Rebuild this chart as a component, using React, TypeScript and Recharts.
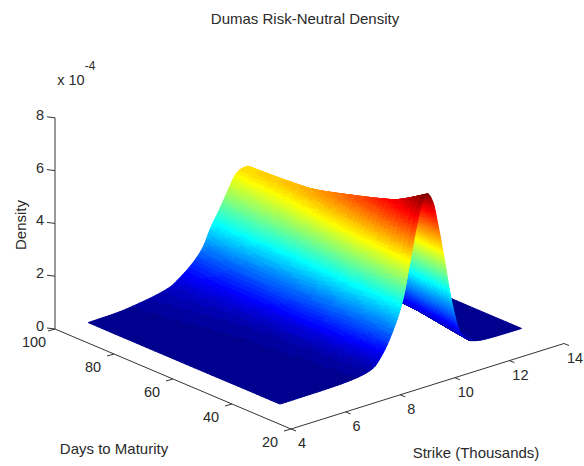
import { ScatterChart, Scatter, XAxis, YAxis } from 'recharts'

const W = 584
const H = 466

// surface values (density in 1e-4)
const strikes = [5, 6, 7, 7.5, 8, 8.4, 8.8, 9.2, 9.5, 9.8, 10, 10.2, 10.4, 10.6, 10.8, 11, 11.3, 11.6, 12, 12.5, 13, 13.85]
const days = [98, 86, 74, 62, 52, 44, 38, 33]
const density98 = [0.014, 0.04, 0.16, 0.25, 0.39, 0.66, 1.0, 1.5, 2.18, 2.72, 3.12, 3.52, 3.88, 4.02, 4.05, 3.93, 3.36, 2.69, 1.62, 0.65, 0.2, 0.02]
const density86 = [0.01, 0.03, 0.12, 0.2, 0.32, 0.58, 0.94, 1.44, 2.08, 2.75, 3.22, 3.62, 3.97, 4.16, 4.14, 3.89, 3.22, 2.42, 1.3, 0.38, 0.12, 0.015]
const density74 = [0.008, 0.022, 0.08, 0.14, 0.26, 0.52, 0.94, 1.42, 2.06, 2.85, 3.42, 3.84, 4.23, 4.38, 4.27, 3.88, 3.11, 2.1, 0.92, 0.24, 0.07, 0.01]
const density62 = [0.006, 0.018, 0.06, 0.11, 0.2, 0.43, 0.88, 1.45, 2.14, 3.09, 3.76, 4.27, 4.66, 4.75, 4.52, 3.95, 2.9, 1.71, 0.62, 0.14, 0.04, 0.008]
const density52 = [0.007, 0.015, 0.046, 0.09, 0.18, 0.42, 0.9, 1.5, 2.31, 3.42, 4.11, 4.73, 5.11, 5.09, 4.63, 3.96, 2.67, 1.44, 0.44, 0.12, 0.03, 0.006]
const density44 = [0.008, 0.012, 0.04, 0.08, 0.15, 0.36, 0.86, 1.54, 2.37, 3.63, 4.46, 5.12, 5.47, 5.39, 4.73, 3.96, 2.37, 1.1, 0.3, 0.07, 0.015, 0.004]
const density38 = [0.006, 0.012, 0.035, 0.07, 0.15, 0.29, 0.78, 1.58, 2.42, 3.87, 4.75, 5.48, 5.86, 5.63, 4.8, 3.84, 2.1, 0.88, 0.2, 0.05, 0.01, 0.003]
const density33 = [0.005, 0.012, 0.03, 0.056, 0.12, 0.25, 0.75, 1.59, 2.49, 4.04, 5.1, 5.88, 6.22, 5.85, 4.85, 3.67, 1.8, 0.6, 0.14, 0.03, 0.01, 0.003]
const densityRows = [density98, density86, density74, density62, density52, density44, density38, density33]

const strikeTicks = [4, 6, 8, 10, 12, 14]
const dayTicks = [100, 80, 60, 40, 20]
const densityTicks = [0, 2, 4, 6, 8]

const FONT = '"Liberation Sans", Arial, sans-serif'
const TEXT = '#2a2a2a'
const Z_MAX = 6.22

// the view the surface is seen from, as pixels per unit of each axis
const project = (k: number, t: number, z: number) => ({
  x: 291 + 27.3 * (k - 4) - 2.95 * (t - 20),
  y: 429 - 8.55 * (k - 4) - 1.25 * (t - 20) - 26.4 * z,
})

const jet = (z: number) => {
  const i = Math.min(64, Math.floor((z / Z_MAX) * 64) + 1)
  const v = i / 64
  const c = (d: number) => Math.round(255 * Math.max(0, Math.min(1, 1.5 - Math.abs(4 * v - d))))
  return `rgb(${c(3)},${c(2)},${c(1)})`
}

const hermite = (v0: number, v1: number, m0: number, m1: number, h: number, s: number) => {
  const s2 = s * s, s3 = s2 * s
  return (2 * s3 - 3 * s2 + 1) * v0 + (s3 - 2 * s2 + s) * h * m0 + (-2 * s3 + 3 * s2) * v1 + (s3 - s2) * h * m1
}

// monotone tangents along strike, so the shading stays smooth between table columns
const rowSlopes = densityRows.map(row => {
  const d = row.slice(1).map((v, i) => (v - row[i]) / (strikes[i + 1] - strikes[i]))
  return row.map((_, i) => {
    if (i === 0) return d[0]
    if (i === row.length - 1) return d[i - 1]
    return d[i - 1] * d[i] <= 0 ? 0 : (2 * d[i - 1] * d[i]) / (d[i - 1] + d[i])
  })
})

const rowAt = (r: number, c: number, a: number) =>
  hermite(densityRows[r][c], densityRows[r][c + 1], rowSlopes[r][c], rowSlopes[r][c + 1], strikes[c + 1] - strikes[c], a)

const surfaceAt = (r: number, c: number, a: number, b: number) => {
  const v = (q: number) => rowAt(Math.max(0, Math.min(days.length - 1, q)), c, a)
  const slope = (q: number) => {
    const lo = Math.max(0, q - 1), hi = Math.min(days.length - 1, q + 1)
    return (v(hi) - v(lo)) / (days[lo] - days[hi])
  }
  return Math.max(0, hermite(v(r), v(r + 1), slope(r), slope(r + 1), days[r] - days[r + 1], b))
}

type Facet = { pts: string; fill: string }

// one scatter point per table cell, back to front and far to near
function buildCells() {
  const cells: { x: number; y: number; facets: Facet[] }[] = []
  for (let r = 0; r < days.length - 1; r++) {
    for (let c = strikes.length - 2; c >= 0; c--) {
      const k0 = strikes[c], k1 = strikes[c + 1]
      const t0 = days[r], t1 = days[r + 1]
      const rise = Math.max(
        Math.abs(densityRows[r][c + 1] - densityRows[r][c]),
        Math.abs(densityRows[r + 1][c + 1] - densityRows[r + 1][c]),
      )
      const nk = Math.max(2, Math.round((k1 - k0) * 8), Math.ceil(rise * 17))
      const nt = Math.max(2, Math.round((t0 - t1) / 1.5))
      const at = (a: number, b: number) =>
        project(k0 + (k1 - k0) * a, t0 + (t1 - t0) * b, surfaceAt(r, c, a, b))
      const facets: Facet[] = []
      for (let j = 0; j < nt; j++) {
        for (let i = nk - 1; i >= 0; i--) {
          const a0 = i / nk, a1 = (i + 1) / nk
          const b0 = j / nt, b1 = (j + 1) / nt
          const pts = [at(a0, b0), at(a1, b0), at(a1, b1), at(a0, b1)]
            .map(p => `${p.x.toFixed(2)},${p.y.toFixed(2)}`)
            .join(' ')
          facets.push({ pts, fill: jet(surfaceAt(r, c, (a0 + a1) / 2, (b0 + b1) / 2)) })
        }
      }
      cells.push({ ...project(k0, t0, densityRows[r][c]), facets })
    }
  }
  return cells
}

const cellData = buildCells()

const zAxisLine = [project(4, 100, 0), project(4, 100, 8)]
const daysAxisLine = [project(4, 100, 0), project(4, 20, 0)]
const strikeAxisLine = [project(4, 20, 0), project(14, 20, 0)]

const tickData = [
  ...densityTicks.map(v => ({ ...project(4, 100, v), label: String(v), dx: -15, dy: -3, tx: -8, ty: -1 })),
  ...dayTicks.map(v => ({ ...project(4, v, 0), label: String(v), dx: -21, dy: 13, tx: -7, ty: 2 })),
  ...strikeTicks.map(v => ({ ...project(v, 20, 0), label: String(v), dx: 11, dy: 14, tx: 5, ty: 2 })),
]

const titles = [
  { x: 305, y: 18, label: 'Dumas Risk-Neutral Density', size: 15, rotate: 0 },
  { x: 71, y: 80, label: 'x 10', size: 14.5, rotate: 0 },
  { x: 90, y: 66, label: '-4', size: 12, rotate: 0 },
  { x: 20, y: 225, label: 'Density', size: 15, rotate: -90 },
  { x: 114, y: 448, label: 'Days to Maturity', size: 15, rotate: 0 },
  { x: 476, y: 452, label: 'Strike (Thousands)', size: 15, rotate: 0 },
]

const NoDot = () => <g />

const CellShape = (props: any) => {
  const { cx, cy, payload } = props
  const ox = cx - payload.x
  const oy = cy - payload.y
  return (
    <g transform={`translate(${ox},${oy})`}>
      {payload.facets.map((f: Facet, i: number) => (
        <polygon key={i} points={f.pts} fill={f.fill} stroke={f.fill} strokeWidth={1} strokeLinejoin="round" />
      ))}
    </g>
  )
}

const TickShape = (props: any) => {
  const { cx, cy, payload } = props
  return (
    <g>
      <line x1={cx} y1={cy} x2={cx + payload.tx} y2={cy + payload.ty} stroke="#333" strokeWidth={1} />
      <text x={cx + payload.dx} y={cy + payload.dy} textAnchor="middle" dominantBaseline="central"
        fontFamily={FONT} fontSize={14.5} fill={TEXT}>
        {payload.label}
      </text>
    </g>
  )
}

const TitleShape = (props: any) => {
  const { cx, cy, payload } = props
  return (
    <text x={cx} y={cy} textAnchor="middle" dominantBaseline="central" fontFamily={FONT}
      fontSize={payload.size} fill={TEXT}
      transform={payload.rotate ? `rotate(${payload.rotate} ${cx} ${cy})` : undefined}>
      {payload.label}
    </text>
  )
}

export default function App() {
  return (
    <div style={{ position: 'absolute', left: 0, top: 0, width: W, height: H }}>
      <ScatterChart width={W} height={H} margin={{ top: 0, right: 0, bottom: 0, left: 0 }}>
        <XAxis type="number" dataKey="x" domain={[0, W]} hide />
        <YAxis type="number" dataKey="y" domain={[0, H]} reversed hide />
        <Scatter data={zAxisLine} line={{ stroke: '#555', strokeWidth: 1.2 }} shape={NoDot} isAnimationActive={false} />
        <Scatter data={daysAxisLine} line={{ stroke: '#333', strokeWidth: 1 }} shape={NoDot} isAnimationActive={false} />
        <Scatter data={strikeAxisLine} line={{ stroke: '#333', strokeWidth: 1 }} shape={NoDot} isAnimationActive={false} />
        <Scatter data={tickData} shape={TickShape} isAnimationActive={false} />
        <Scatter data={cellData} shape={CellShape} isAnimationActive={false} />
        <Scatter data={titles} shape={TitleShape} isAnimationActive={false} />
      </ScatterChart>
    </div>
  )
}
